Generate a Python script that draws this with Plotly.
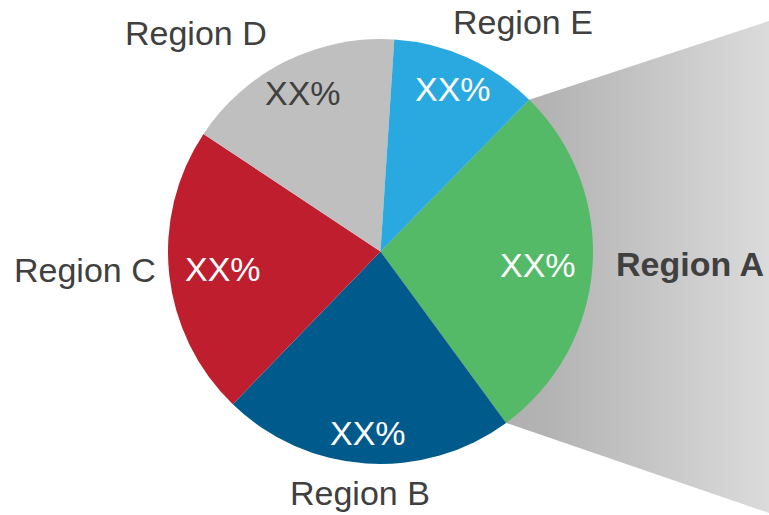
import math
import plotly.graph_objects as go

# ---- data ----
regions = ["Region A", "Region B", "Region C", "Region D", "Region E"]
values = [27.6, 22.3, 22.1, 16.7, 11.3]
pct_labels = ["XX%", "XX%", "XX%", "XX%", "XX%"]

# ---- style / layout constants ----
W, H = 769, 515
colors = ["#54BA67", "#005A8C", "#BE1E2D", "#BFBFBF", "#29A9E0"]
pct_colors = ["white", "white", "white", "#404040", "white"]
label_color = "#404040"
font_family = "Arial, Liberation Sans, sans-serif"
fsize = 34
cx, cy, R = 380.5, 251.5, 212.5   # pie centre / radius in pixels
rotation = 44.4                    # start angle of first slice (deg, clockwise from 12 o'clock)

# label anchor positions (pixels)
name_pos = [(690, 263.5), (359.5, 493), (85, 270), (195.5, 33), (522.5, 22)]
pct_pos = [(538, 265), (368, 433), (223, 269), (302.5, 93), (453, 89)]

# zoom wedge right-side corners (pixels)
wedge_right_top = (769, 21)
wedge_right_bot = (769, 513)

fig = go.Figure()

# --- wedge geometry derived from first slice boundaries ---
total = sum(values)
a0 = math.radians(rotation)
a1 = math.radians(rotation + 360 * values[0] / total)
p0 = (cx + R * math.sin(a0), cy - R * math.cos(a0))
p1 = (cx + R * math.sin(a1), cy - R * math.cos(a1))
wx = [p0[0], wedge_right_top[0], wedge_right_bot[0], p1[0], cx, p0[0]]
wy = [p0[1], wedge_right_top[1], wedge_right_bot[1], p1[1], cy, p0[1]]

fig.add_trace(go.Scatter(
    x=wx, y=wy, mode="lines", fill="toself",
    line=dict(width=0, color="rgba(0,0,0,0)"),
    fillgradient=dict(type="horizontal",
                      colorscale=[[0, "#B0B0B0"], [0.15, "#B3B3B3"], [1, "#DBDBDB"]],
                      start=min(p0[0], p1[0]), stop=W),
    hoverinfo="skip", showlegend=False,
))

fig.add_trace(go.Pie(
    labels=regions, values=values, sort=False, direction="clockwise",
    rotation=rotation,
    marker=dict(colors=colors, line=dict(width=0)),
    textinfo="none", hoverinfo="label", showlegend=False,
    domain=dict(x=[(cx - R) / W, (cx + R) / W],
                y=[(H - cy - R) / H, (H - cy + R) / H]),
))

for i, name in enumerate(regions):
    nx, ny = name_pos[i]
    txt = f"<b>{name}</b>" if i == 0 else name
    fig.add_annotation(x=nx, y=ny, xref="x", yref="y", text=txt, showarrow=False,
                       xanchor="center", yanchor="middle",
                       font=dict(family=font_family, size=fsize, color=label_color))
    px_, py_ = pct_pos[i]
    fig.add_annotation(x=px_, y=py_, xref="x", yref="y", text=pct_labels[i], showarrow=False,
                       xanchor="center", yanchor="middle",
                       font=dict(family=font_family, size=fsize, color=pct_colors[i]))

fig.update_layout(
    width=W, height=H,
    margin=dict(l=0, r=0, t=0, b=0),
    paper_bgcolor="white", plot_bgcolor="white",
    xaxis=dict(range=[0, W], visible=False, fixedrange=True),
    yaxis=dict(range=[H, 0], visible=False, fixedrange=True),
)

fig.write_html("out.html", config={"displayModeBar": False},
               post_script="document.body.style.margin='0';document.body.style.overflow='hidden';")
